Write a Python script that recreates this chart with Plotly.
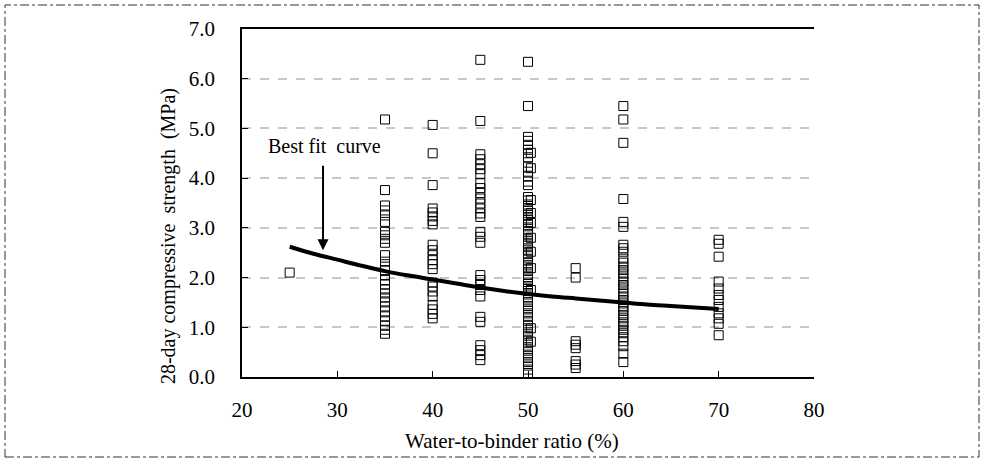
import plotly.graph_objects as go

# ---- data ----
wb_25 = [2.10]
wb_35 = [5.18, 3.76, 3.45, 3.35, 3.25, 3.12, 2.92, 2.85, 2.78, 2.70, 2.45, 2.32, 2.22,
         2.15, 2.05, 1.95, 1.86, 1.76, 1.68, 1.60, 1.52, 1.42, 1.32, 1.22, 1.12,
         1.03, 0.95, 0.87]
wb_40 = [5.07, 4.50, 3.86, 3.39, 3.31, 3.23, 3.14, 3.07, 2.66, 2.55, 2.45, 2.35,
         2.27, 2.17, 1.90, 1.82, 1.72, 1.62, 1.45, 1.36, 1.27, 1.18]
wb_45 = [6.38, 5.15, 4.48, 4.38, 4.28, 4.18, 4.08, 3.90, 3.80, 3.70, 3.59, 3.49,
         3.39, 3.29, 3.22, 2.92, 2.82, 2.70, 2.05, 1.95, 1.85, 1.75, 1.62, 1.21,
         1.11, 0.64, 0.54, 0.44, 0.34]
wb_50 = [6.34, 5.45, 4.83, 4.75, 4.67, 4.57, 4.50, 4.42, 4.23, 4.13, 4.03, 3.93,
         3.86, 3.62, 3.55, 3.47, 3.40, 3.34, 3.26, 3.19, 3.12, 3.06, 2.98, 2.92,
         2.85, 2.77, 2.70, 2.64, 2.56, 2.49, 2.43, 2.36, 2.29, 2.22, 2.16, 2.08,
         2.01, 1.95, 1.87, 1.80, 1.73, 1.66, 1.58, 1.51, 1.43, 1.36, 1.28, 1.21,
         1.13, 1.05, 0.98, 0.90, 0.83, 0.75, 0.68, 0.60, 0.53, 0.45, 0.38, 0.30,
         0.23, 0.15, 0.08]
wb_50b = [4.51, 4.20, 3.56, 3.30, 3.10, 2.80, 2.52, 2.19, 1.75, 0.98, 0.71]
wb_55 = [2.19, 2.00, 0.72, 0.65, 0.58, 0.32, 0.25, 0.18]
wb_60 = [5.45, 5.18, 4.71, 3.58, 3.12, 3.02, 2.66, 2.59, 2.52, 2.38, 2.30, 2.22,
         2.15, 2.08, 2.00, 1.92, 1.85, 1.78, 1.70, 1.62, 1.55, 1.48, 1.40, 1.33,
         1.25, 1.18, 1.10, 1.03, 0.95, 0.88, 0.80, 0.72, 0.62, 0.47, 0.30]
wb_70 = [2.76, 2.68, 2.42, 1.92, 1.78, 1.65, 1.55, 1.41, 1.28, 1.18, 1.07, 0.84]

fit_x = [25, 27.5, 30, 32.5, 35, 37.5, 40, 42.5, 45, 47.5, 50, 52.5, 55, 57.5,
         60, 62.5, 65, 67.5, 70]
fit_y = [2.62, 2.48, 2.36, 2.24, 2.13, 2.04, 1.96, 1.88, 1.80, 1.73, 1.67, 1.62,
         1.58, 1.54, 1.50, 1.46, 1.43, 1.40, 1.37]

x_ticks = [20, 30, 40, 50, 60, 70, 80]
y_ticks = [0, 1, 2, 3, 4, 5, 6, 7]
y_tick_labels = ["0.0", "1.0", "2.0", "3.0", "4.0", "5.0", "6.0", "7.0"]

groups = [(25, wb_25), (35, wb_35), (40, wb_40), (45, wb_45), (50, wb_50),
          (50.3, wb_50b), (55, wb_55), (60, wb_60), (70, wb_70)]
xs, ys = [], []
for gx, vals in groups:
    xs += [gx] * len(vals)
    ys += vals

FONT = "Liberation Serif"
FS = 21

fig = go.Figure()
fig.add_trace(go.Scatter(
    x=xs, y=ys, mode="markers",
    marker=dict(symbol="square-open", size=9, color="black", line=dict(width=1)),
    showlegend=False, hoverinfo="x+y"))
fig.add_trace(go.Scatter(
    x=fit_x, y=fit_y, mode="lines", line=dict(color="black", width=4, shape="spline"),
    showlegend=False))

fig.add_annotation(x=28.5, y=2.55, ax=28.5, ay=4.28, xref="x", yref="y",
                   axref="x", ayref="y", text="", showarrow=True,
                   arrowhead=2, arrowsize=1.1, arrowwidth=2, arrowcolor="black")
fig.add_annotation(x=28.7, y=4.65, xref="x", yref="y", text="Best fit  curve",
                   showarrow=False, font=dict(family=FONT, size=20, color="black"))

# axis titles placed as text
fig.add_annotation(x=-0.1294, y=0.405, xref="paper", yref="paper",
                   xanchor="center", yanchor="middle",
                   text="28-day compressive  strength  (MPa)", textangle=-90,
                   showarrow=False, font=dict(family=FONT, size=20, color="black"))
fig.add_annotation(x=0.472, y=-0.184, xref="paper", yref="paper",
                   xanchor="center", yanchor="middle",
                   text="Water-to-binder ratio (%)",
                   showarrow=False, font=dict(family=FONT, size=FS, color="black"))

# outer dash-dot frame
fig.add_shape(type="rect", xref="paper", yref="paper",
              x0=-0.4143, x1=1.2885, y0=-0.2299, y1=1.069,
              line=dict(color="#333333", width=1, dash="dashdot"))

fig.update_layout(
    width=984, height=461,
    margin=dict(l=242, r=170, t=29, b=84),
    paper_bgcolor="white", plot_bgcolor="white",
    font=dict(family=FONT, size=FS, color="black"),
    xaxis=dict(range=[20, 80], tickvals=x_ticks, ticks="inside", ticklen=6,
               tickcolor="black", showline=True, linecolor="black", linewidth=1.5,
               mirror=True, showgrid=False, zeroline=False, ticklabelstandoff=13,
               tickfont=dict(family=FONT, size=FS)),
    yaxis=dict(range=[0, 7], tickvals=y_ticks, ticktext=y_tick_labels,
               ticks="inside", ticklen=6, tickcolor="black", showline=True,
               linecolor="black", linewidth=1.5, showgrid=True,
               gridcolor="#c8c8c8", gridwidth=1.5, griddash="dash",
               zeroline=False, ticklabelstandoff=21,
               tickfont=dict(family=FONT, size=FS)),
)

fig.write_html("out.html", config={"displayModeBar": False},
               post_script="document.body.style.margin='0';")
